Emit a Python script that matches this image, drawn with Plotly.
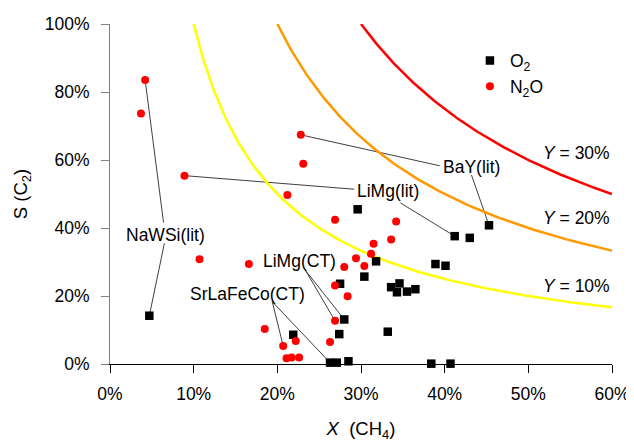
import plotly.graph_objects as go

# ---- data (percent) ----
o2_x = [4.7, 21.9, 26.3, 27.1, 28.5, 29.6, 45.3, 41.2, 43.0, 31.8, 38.9, 40.1,
        30.4, 27.5, 33.6, 34.6, 34.3, 35.5, 36.5, 28.0, 27.4, 33.2, 38.4, 40.7]
o2_y = [14.2, 8.6, 0.4, 0.4, 0.8, 45.5, 40.8, 37.6, 37.1, 30.2, 29.4, 28.9,
        25.7, 23.6, 22.6, 23.7, 21.1, 21.3, 22.0, 13.1, 8.8, 9.5, 0.1, 0.1]

n2o_x = [4.2, 3.7, 8.9, 22.8, 23.1, 21.2, 26.9, 34.2, 31.5, 33.6, 31.2, 29.4, 28.0,
         30.4, 26.9, 28.4, 26.9, 26.3, 10.7, 16.6, 18.5, 20.7, 22.2, 21.1, 21.7, 22.6]
n2o_y = [83.5, 73.7, 55.4, 67.4, 58.9, 49.7, 42.4, 41.9, 35.4, 36.6, 32.4, 31.1, 28.5,
         28.8, 23.1, 19.9, 12.7, 6.5, 30.8, 29.4, 10.3, 5.3, 6.8, 1.7, 1.9, 1.9]

yield_levels = [10, 20, 30]
yield_colors = ["#FFFF00", "#FF9900", "#FF0000"]
yield_label_y = [22.9, 42.9, 62.1]

x_ticks = [0, 10, 20, 30, 40, 50, 60]
y_ticks = [0, 20, 40, 60, 80, 100]

# labels: text, label position, leader start points, target (series, index)
label_texts = ["NaWSi(lit)", "LiMg(lit)", "BaY(lit)", "LiMg(CT)", "SrLaFeCo(CT)"]
label_pos = [(6.6, 38.0), (33.2, 50.9), (43.2, 58.0), (22.7, 30.4), (16.4, 20.7)]
leader_starts = [[(6.4, 41.6), (6.5, 35.5)],
                 [(29.2, 51.4), (34.7, 47.4)],
                 [(39.4, 58.3), (43.2, 55.6)],
                 [(23.4, 27.4), (23.4, 27.4)],
                 [(19.4, 18.3), (19.4, 18.3)]]
leader_targets = [[("n2o", 0), ("o2", 0)],
                  [("n2o", 2), ("o2", 7)],
                  [("n2o", 3), ("o2", 6)],
                  [("n2o", 16), ("o2", 19)],
                  [("n2o", 21), ("o2", 2)]]

FONT = "Liberation Sans, Arial, sans-serif"
FS = 17.5

fig = go.Figure()

# iso-yield curves  S = Y / X
for lvl, col in zip(yield_levels, yield_colors):
    n = 200
    xs = [lvl + (60 - lvl) * i / (n - 1) for i in range(n)]
    ys = [100 * lvl / x for x in xs]
    fig.add_trace(go.Scatter(x=xs, y=ys, mode="lines", line=dict(color=col, width=2.5),
                             showlegend=False, hoverinfo="skip"))

fig.add_trace(go.Scatter(x=o2_x, y=o2_y, mode="markers", name="O<sub>2</sub>",
                         marker=dict(symbol="square", size=8.5, color="#000000"),
                         cliponaxis=False))
fig.add_trace(go.Scatter(x=n2o_x, y=n2o_y, mode="markers", name="N<sub>2</sub>O",
                         marker=dict(symbol="circle", size=8, color="#FF0000"),
                         cliponaxis=False))

series = {"o2": (o2_x, o2_y), "n2o": (n2o_x, n2o_y)}
shapes = []
annotations = []
for txt, pos, starts, targets in zip(label_texts, label_pos, leader_starts, leader_targets):
    annotations.append(dict(x=pos[0], y=pos[1], xref="x", yref="y", text=txt,
                            showarrow=False, xanchor="center", yanchor="middle",
                            font=dict(size=FS, color="#000000", family=FONT)))
    for (sx, sy), (sname, idx) in zip(starts, targets):
        tx, ty = series[sname][0][idx], series[sname][1][idx]
        shapes.append(dict(type="line", xref="x", yref="y", x0=sx, y0=sy, x1=tx, y1=ty,
                           line=dict(color="#404040", width=1), layer="below"))

for lvl, ly in zip(yield_levels, yield_label_y):
    annotations.append(dict(x=60, y=ly, xref="x", yref="y", text=f"<i>Y</i> = {lvl}%",
                            showarrow=False, xanchor="right", yanchor="middle",
                            font=dict(size=FS, color="#000000", family=FONT)))

# page body adds an 8px margin, so the figure is sized to fit the window
fig.update_layout(
    width=626, height=440,
    margin=dict(l=101.5, r=21.7, t=16, b=84, autoexpand=False),
    paper_bgcolor="white", plot_bgcolor="white",
    font=dict(family=FONT, size=FS, color="#000000"),
    shapes=shapes, annotations=annotations,
    legend=dict(x=0.717, y=0.945, xanchor="left", yanchor="top",
                bgcolor="rgba(0,0,0,0)", font=dict(size=FS), itemwidth=30,
                tracegroupgap=0),
    xaxis=dict(range=[0, 60], tickvals=x_ticks, ticktext=[f"{v}%" for v in x_ticks],
               showgrid=False, zeroline=False, showline=True, linecolor="#000000",
               linewidth=1, ticks="outside", ticklen=8, tickcolor="#000000",
               ticklabelstandoff=6, automargin=False,
               title=dict(text="<i>X</i>&nbsp;&nbsp;(CH<sub>4</sub>)", font=dict(size=18.5),
                          standoff=19)),
    yaxis=dict(range=[0, 100], tickvals=y_ticks, ticktext=[f"{v}%" for v in y_ticks],
               showgrid=False, zeroline=False, showline=True, linecolor="#808080",
               linewidth=1, ticks="outside", ticklen=8, tickcolor="#808080",
               ticklabelstandoff=8, automargin=False,
               title=dict(text="S (C<sub>2</sub>)", font=dict(size=18.5), standoff=12)),
)

fig.write_html("out.html")
